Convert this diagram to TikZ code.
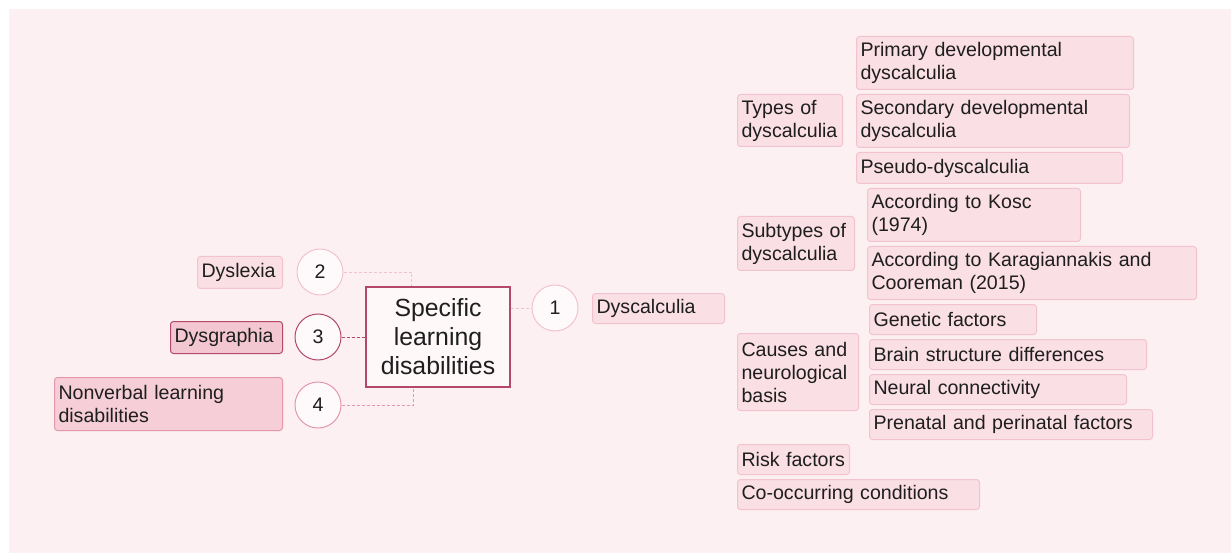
\documentclass[tikz,border=0pt]{standalone}
\usepackage{fontspec}
\setmainfont{Liberation Sans}
\usepackage{tikz}

\definecolor{bgpink}{RGB}{252,240,243}
\definecolor{leaffill}{RGB}{250,223,229}
\definecolor{leafline}{RGB}{242,195,207}
\definecolor{darkline}{RGB}{180,72,106}
\definecolor{midline}{RGB}{228,150,172}
\definecolor{selfill}{RGB}{243,199,210}
\definecolor{textgray}{RGB}{30,30,30}

\begin{document}
\begin{tikzpicture}[x=1pt,y=-1pt,
    leaf/.style={draw=leafline,fill=leaffill,line width=1pt,rounded corners=3pt,
      anchor=north west,inner xsep=4pt,inner ysep=0pt,align=left,text=textgray,
      font=\fontsize{19.6}{23}\selectfont},
    num/.style={draw=leafline,fill=bgpink!40!white,circle,line width=1pt,
      minimum size=46pt,inner sep=0pt,text=textgray,font=\fontsize{19.6}{23}\selectfont},
    link/.style={draw=leafline,line width=0.8pt,dash pattern=on 3pt off 2pt}]
  \fill[white] (0,0) rectangle (1231,553);
  \useasboundingbox (0,0) rectangle (1231,553);
  \fill[bgpink] (9,9) rectangle (1231,553);

  \node[draw=darkline,fill=bgpink!50!white,line width=1.2pt,minimum width=144pt,
    minimum height=100pt,align=center,text=textgray,
    font=\fontsize{24.8}{29}\selectfont] (hub) at (438,337) {Specific\\learning\\disabilities};

  \node[num] (n1) at (555,308) {1};
  \node[num] (n2) at (320,272) {2};
  \node[num,draw=darkline] (n3) at (318,337) {3};
  \node[num,draw=midline] (n4) at (318,405) {4};

  \draw[link] (n1.west -| hub.east) -- (n1.west);
  \draw[link] (n2.east) -| ([xshift=-27pt]hub.north);
  \draw[link,draw=darkline] (n3.east) -- (hub.west);
  \draw[link,draw=midline] (n4.east) -| ([xshift=-25pt]hub.south);

  \node[leaf,text width=77pt,minimum height=32pt] (dyslexia) at (197,256) {Dyslexia};
  \node[leaf,draw=darkline,fill=selfill,text width=104pt,minimum height=32pt] (dysgraphia) at (170,321) {Dysgraphia};
  \node[leaf,draw=midline,fill=selfill!70!leaffill,text width=220pt,minimum height=53pt] (nonverbal) at (54,377) {Nonverbal learning\\disabilities};
  \node[leaf,text width=124pt,minimum height=30pt] (dyscalculia) at (592,293) {Dyscalculia};

  \node[leaf,text width=97pt,minimum height=52pt] (types) at (737,94) {Types of\\dyscalculia};
  \node[leaf,text width=269pt,minimum height=53pt] (primary) at (856,36) {Primary developmental\\dyscalculia};
  \node[leaf,text width=265pt,minimum height=53pt] (secondary) at (856,94) {Secondary developmental\\dyscalculia};
  \node[leaf,text width=258pt,minimum height=31pt] (pseudo) at (856,152) {Pseudo-dyscalculia};

  \node[leaf,text width=109pt,minimum height=54pt] (subtypes) at (737,216) {Subtypes of\\dyscalculia};
  \node[leaf,text width=205pt,minimum height=53pt] (kosc) at (867,188) {According to Kosc\\(1974)};
  \node[leaf,text width=321pt,minimum height=53pt] (karag) at (867,246) {According to Karagiannakis and\\Cooreman (2015)};

  \node[leaf,text width=113pt,minimum height=77pt] (causes) at (737,333) {Causes and\\neurological\\basis};
  \node[leaf,text width=159pt,minimum height=30pt] (genetic) at (869,304) {Genetic factors};
  \node[leaf,text width=269pt,minimum height=30pt] (brain) at (869,339) {Brain structure differences};
  \node[leaf,text width=249pt,minimum height=30pt] (neural) at (869,374) {Neural connectivity};
  \node[leaf,text width=275pt,minimum height=30pt] (prenatal) at (869,409) {Prenatal and perinatal factors};

  \node[leaf,text width=104pt,minimum height=30pt] (risk) at (737,444) {Risk factors};
  \node[leaf,text width=234pt,minimum height=30pt] (cooccur) at (737,479) {Co-occurring conditions};
\end{tikzpicture}
\end{document}
